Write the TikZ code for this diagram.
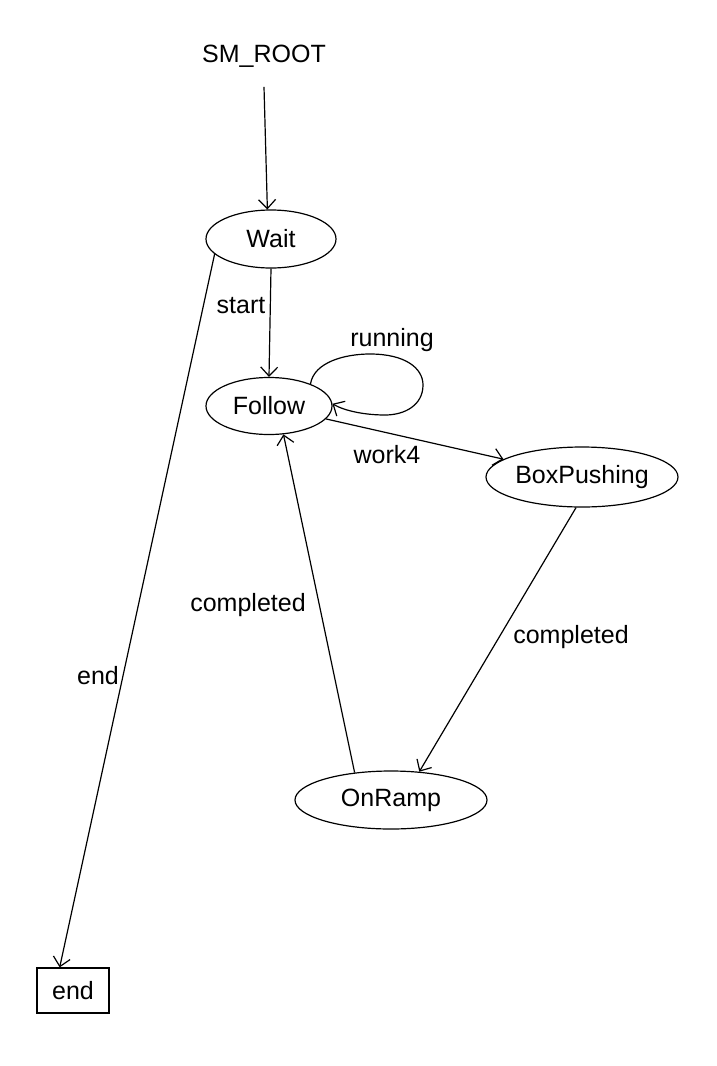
\documentclass[tikz,border=0pt]{standalone}
\usepackage{fontspec}
\setmainfont{Liberation Sans}
\usetikzlibrary{shapes.geometric,arrows.meta}
\begin{document}
\begin{tikzpicture}[x=1pt,y=-1pt,
  every node/.style={font=\fontsize{25}{30}\selectfont},
  state/.style={ellipse,draw,line width=1.2pt,inner sep=0pt},
  endstate/.style={rectangle,draw,line width=1.2pt,inner sep=0pt,minimum width=72pt,minimum height=45pt},
  lbl/.style={inner sep=0pt},
  arr/.style={line width=1.2pt,-{Straight Barb[length=9pt,width=17pt,line width=1.2pt]}}]
\useasboundingbox (0,0) rectangle (716,1066);
\node[inner xsep=2pt,inner ysep=19pt] (root) at (264,56.5) {SM\_ROOT};
\node[state,minimum width=130pt,minimum height=58pt] (Wait) at (271,239) {Wait};
\node[state,minimum width=126pt,minimum height=57pt] (Follow) at (269,406) {Follow};
\node[state,minimum width=192pt,minimum height=60pt] (BoxPushing) at (582,477) {BoxPushing};
\node[state,minimum width=192pt,minimum height=58pt] (OnRamp) at (391,800) {OnRamp};
\node[endstate] (endbox) at (73,990.5) {end};

\node[lbl] (lstart) at (241,306) {start};
\node[lbl] (lrun) at (392,340) {running};
\node[lbl] (lwork) at (387,455) {work4};
\node[lbl] (lcomp1) at (248,605) {completed};
\node[lbl] (lcomp2) at (571,637) {completed};
\node[lbl] (lend) at (98,676) {end};

\draw[arr] (root.south) -- (Wait.97);
\draw[arr] (Wait.south) -- (Follow.north);
\draw[arr] (Follow.28) .. controls (314,362) and (345,354) .. (370,354)
                       .. controls (405,354) and (423,368) .. (423,385)
                       .. controls (423,405) and (405,415) .. (385,415)
                       .. controls (365,415) and (345,411) .. (Follow.2);
\draw[arr] (Follow) -- (BoxPushing);
\draw[arr] (BoxPushing.-101) -- (OnRamp.45);
\draw[arr] (OnRamp.143) -- (Follow.-63);
\draw[arr] (Wait.195) -- (endbox.120);
\end{tikzpicture}
\end{document}
